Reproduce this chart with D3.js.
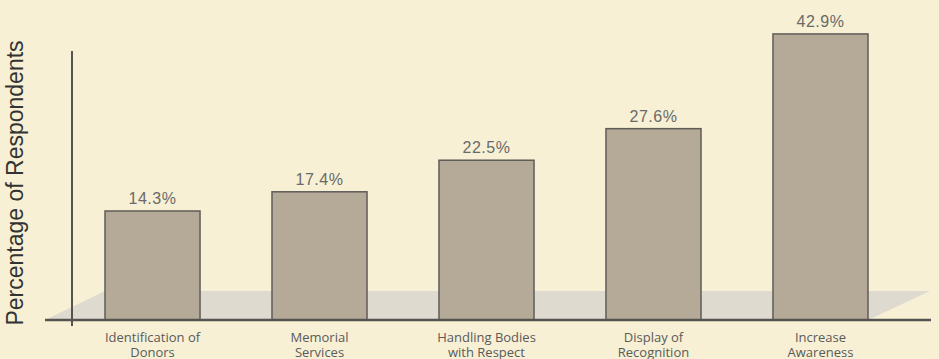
<!DOCTYPE html>
<html><head><meta charset="utf-8">
<script src="https://cdn.jsdelivr.net/npm/d3@7"></script>
<style>html,body{margin:0;padding:0;background:#f7f0d4;}svg{display:block;}</style>
</head><body>
<script>
const categories = [["Identification of","Donors"],["Memorial","Services"],["Handling Bodies","with Respect"],["Display of","Recognition"],["Increase","Awareness"]];
const values = [14.3, 17.4, 22.5, 27.6, 42.9];
const valueLabels = ["14.3%","17.4%","22.5%","27.6%","42.9%"];
const yTitle = "Percentage of Respondents";

const W = 939, H = 359;
const svg = d3.select("body").append("svg").attr("width", W).attr("height", H);
svg.append("rect").attr("width", W).attr("height", H).attr("fill", "#f7f0d4");

const baseY = 320, floorY = 299.5;
const x = d3.scaleBand().domain(d3.range(values.length)).range([105, 868]).paddingInner(0.431).paddingOuter(0).align(0);
const y = d3.scaleLinear().domain([0, 50]).range([floorY, floorY - 6.19 * 50]);

// floor shading
svg.append("path").attr("d", `M45,${baseY}L105,291L930,291L868,${baseY}Z`).attr("fill", "#dedad0");

// bars
svg.selectAll("rect.bar").data(values).join("rect").attr("class","bar")
  .attr("x", (d,i) => x(i)).attr("width", x.bandwidth())
  .attr("y", d => y(d)).attr("height", d => baseY - y(d))
  .attr("fill", "#b5aa97").attr("stroke", "#5f5c58").attr("stroke-width", 1.5);

// value labels
svg.selectAll("text.val").data(values).join("text").attr("class","val")
  .attr("x", (d,i) => x(i) + x.bandwidth()/2).attr("y", d => y(d) - 7)
  .attr("text-anchor","middle").attr("font-family","Liberation Sans, Arial, sans-serif")
  .attr("font-size", 16).attr("letter-spacing", 0.5).attr("fill","#6a6a6a")
  .text((d,i) => valueLabels[i]);

// axes
svg.append("line").attr("x1",45).attr("x2",931).attr("y1",baseY).attr("y2",baseY).attr("stroke","#55534f").attr("stroke-width",2.5);
svg.append("line").attr("x1",72).attr("x2",72).attr("y1",51).attr("y2",326).attr("stroke","#55534f").attr("stroke-width",2);

// category labels
const cl = svg.selectAll("text.cat").data(categories).join("text").attr("class","cat")
  .attr("text-anchor","middle").attr("font-family","Open Sans, sans-serif")
  .attr("font-size", 13).attr("fill","#5a5a5a");
cl.each(function(d,i){
  const t = d3.select(this);
  d.forEach((line,j) => t.append("tspan").attr("x", x(i)+x.bandwidth()/2).attr("y", 342 + j*15).text(line));
});

// y title
svg.append("text").attr("transform","translate(23,183) rotate(-90)")
  .attr("text-anchor","middle").attr("font-family","Liberation Sans, Arial, sans-serif")
  .attr("font-size", 23).attr("fill","#333").text(yTitle);
</script>
</body></html>
